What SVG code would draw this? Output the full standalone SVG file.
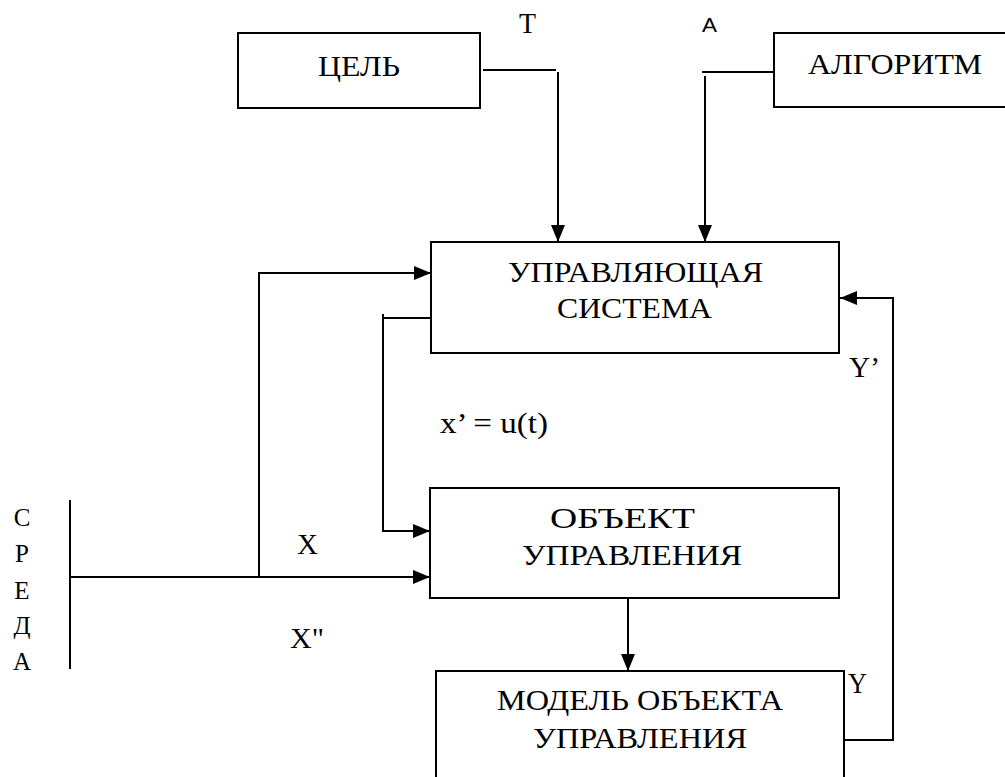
<svg xmlns="http://www.w3.org/2000/svg" width="1005" height="777" viewBox="0 0 1005 777">
<style>
.box{fill:#fff;stroke:#000;stroke-width:2}
.ln{fill:none;stroke:#000;stroke-width:2}
text{fill:#000}
</style>
<defs>
<marker id="ah" markerWidth="18" markerHeight="14" refX="17" refY="7" orient="auto" markerUnits="userSpaceOnUse">
<path d="M0,0 L17,7 L0,14 z" fill="#000"/>
</marker>
</defs>
<rect width="1005" height="777" fill="#fff"/>
<g id="connectors">
<polyline class="ln" points="483,70 556,70"/>
<line class="ln" x1="558" y1="72" x2="558" y2="242" marker-end="url(#ah)"/>
<polyline class="ln" points="702,72 774,72"/>
<line class="ln" x1="705" y1="76" x2="705" y2="242" marker-end="url(#ah)"/>
<polyline class="ln" points="259,577 259,273 431,273" marker-end="url(#ah)"/>
<polyline class="ln" points="431,318 383,318"/>
<polyline class="ln" points="383,314 383,531 430,531" marker-end="url(#ah)"/>
<line class="ln" x1="70" y1="500" x2="70" y2="669"/>
<line class="ln" x1="70" y1="577" x2="430" y2="577" marker-end="url(#ah)"/>
<line class="ln" x1="628" y1="598" x2="628" y2="671" marker-end="url(#ah)"/>
<polyline class="ln" points="844,740 893,740 893,298 840,298" marker-end="url(#ah)"/>
</g>
<g font-family="'Liberation Serif', 'Times New Roman', 'DejaVu Serif', serif" font-size="30">
<g id="node-cel">
<rect class="box" x="238" y="33" width="242" height="75"/>
<text x="318" y="76" textLength="82" lengthAdjust="spacingAndGlyphs">ЦЕЛЬ</text>
</g>
<g id="node-algoritm">
<rect class="box" x="774" y="33" width="240" height="74"/>
<text x="808" y="74" textLength="174" lengthAdjust="spacingAndGlyphs">АЛГОРИТМ</text>
</g>
<g id="node-us">
<rect class="box" x="431" y="242" width="408" height="111"/>
<text x="508" y="282" textLength="255" lengthAdjust="spacingAndGlyphs">УПРАВЛЯЮЩАЯ</text>
<text x="557" y="318" textLength="155" lengthAdjust="spacingAndGlyphs">СИСТЕМА</text>
</g>
<g id="node-ou">
<rect class="box" x="430" y="488" width="409" height="110"/>
<text x="550" y="528" textLength="145" lengthAdjust="spacingAndGlyphs">ОБЪЕКТ</text>
<text x="522" y="565" textLength="220" lengthAdjust="spacingAndGlyphs">УПРАВЛЕНИЯ</text>
</g>
<g id="node-model">
<rect class="box" x="436" y="671" width="408" height="130"/>
<text x="497" y="710" textLength="286" lengthAdjust="spacingAndGlyphs">МОДЕЛЬ ОБЪЕКТА</text>
<text x="533" y="748" textLength="214" lengthAdjust="spacingAndGlyphs">УПРАВЛЕНИЯ</text>
</g>
<g id="labels">
<text x="519" y="33" textLength="17" lengthAdjust="spacingAndGlyphs">Т</text>
<text x="702" y="32" font-family="'Liberation Sans', Arial, sans-serif" font-size="20" textLength="15" lengthAdjust="spacingAndGlyphs">А</text>
<text x="849" y="377" textLength="31" lengthAdjust="spacingAndGlyphs">Y’</text>
<text x="440" y="433" textLength="108" lengthAdjust="spacingAndGlyphs">x’ = u(t)</text>
<text x="297" y="554" textLength="21" lengthAdjust="spacingAndGlyphs">X</text>
<text x="290" y="648" textLength="34" lengthAdjust="spacingAndGlyphs">X"</text>
<text x="848" y="693" textLength="19" lengthAdjust="spacingAndGlyphs">Y</text>
<text x="22" y="526" text-anchor="middle" font-size="25">С</text>
<text x="22" y="562" text-anchor="middle" font-size="25">Р</text>
<text x="22" y="599" text-anchor="middle" font-size="25">Е</text>
<text x="22" y="634" text-anchor="middle" font-size="25">Д</text>
<text x="22" y="670" text-anchor="middle" font-size="25">А</text>
</g>
</g>
</svg>
